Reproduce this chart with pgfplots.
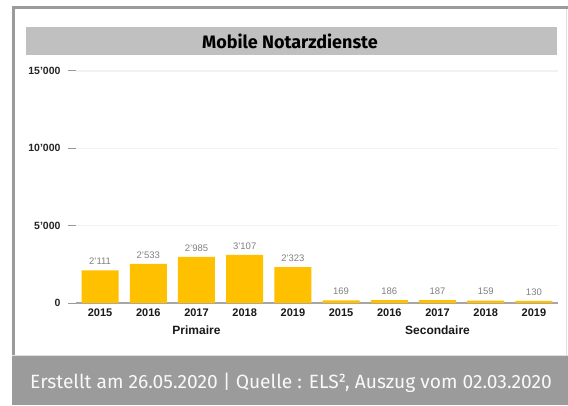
\documentclass[border=0pt]{standalone}
\usepackage{pgfplots}
\pgfplotsset{compat=1.18}
\usepackage{fontspec}
\setmainfont{Liberation Sans}
\newfontfamily\fira{Fira Sans}
\definecolor{bargold}{HTML}{FFC000}
\definecolor{framec}{HTML}{9B9B9B}
\definecolor{titlebg}{HTML}{C0C0C0}
\definecolor{footbg}{HTML}{9B9B9B}
\pgfplotsset{/pgf/number format/.cd,1000 sep={'},assume math mode=true}
\begin{document}
\begin{tikzpicture}[x=1pt,y=1pt]
\useasboundingbox (0,0) rectangle (568,405);
\fill[white] (0,0) rectangle (568,405);
% frame
\fill[framec] (12,396) rectangle (568,399);
\fill[framec] (12,50) rectangle (14.5,399);
\draw[gray!25] (566,50) -- (566,396);
% footer
\fill[footbg] (12,0) rectangle (568,50);
\draw[white!75!gray, line width=1pt] (12,49.5) -- (568,49.5);
\node[text=white!95!gray, font=\fira\fontsize{19.2}{19.2}\selectfont] at (291,22) {Erstellt am 26.05.2020 | Quelle : ELS², Auszug vom 02.03.2020};
% title band
\fill[titlebg] (26,350) rectangle (557,378);
\node[font=\fira\bfseries\fontsize{18}{18}\selectfont] at (290,364) {Mobile Notarzdienste};
\begin{axis}[
  at={(76pt,102pt)}, anchor=south west,
  scale only axis, width=482pt, height=232pt,
  xmin=-0.5, xmax=9.5, ymin=0, ymax=15000,
  clip=false,
  axis line style={draw=none},
  ybar, bar width=37pt,
  ytick={0,5000,10000,15000},
  scaled y ticks=false,
  tick align=outside,
  major tick length=8pt,
  ytick pos=left,
  xtick pos=bottom,
  ytick style={draw=gray!80, line width=1pt},
  xtick style={draw=none},
  yticklabel style={font=\bfseries\fontsize{10.5}{10.5}\selectfont, text=black!85, xshift=-4pt},
  xtick={0,...,9},
  xticklabels={2015,2016,2017,2018,2019,2015,2016,2017,2018,2019},
  xticklabel style={font=\bfseries\fontsize{11}{11}\selectfont, text=black!90, yshift=6pt},
  ymajorgrids,
  grid style={gray!10, line width=1.2pt},
  nodes near coords,
  every node near coord/.append style={font=\fontsize{9.5}{9.5}\selectfont, text=gray, yshift=2pt},
]
\draw[gray!70, line width=1.2pt] (axis cs:-0.5,0) -- (axis cs:9.5,0);
\addplot[fill=bargold, draw=none] coordinates {
(0,2111) (1,2533) (2,2985) (3,3107) (4,2323)
(5,169) (6,186) (7,187) (8,159) (9,130)};
\node[font=\bfseries\fontsize{12}{12}\selectfont, text=black!90] at (axis cs:2,0) [yshift=-27pt] {Primaire};
\node[font=\bfseries\fontsize{12}{12}\selectfont, text=black!90] at (axis cs:7,0) [yshift=-27pt] {Secondaire};
\end{axis}
\end{tikzpicture}
\end{document}
